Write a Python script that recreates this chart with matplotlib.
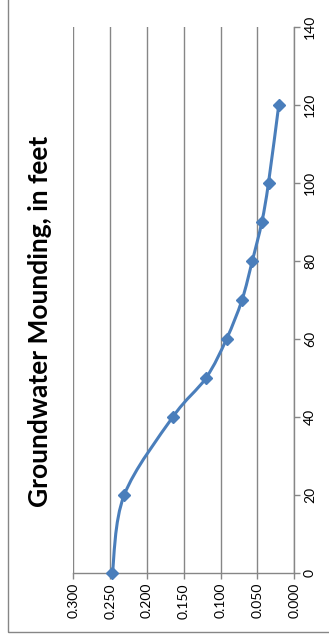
import numpy as np
import matplotlib
matplotlib.use("Agg")
import matplotlib.pyplot as plt
from matplotlib.path import Path
from matplotlib.patches import PathPatch, Rectangle

# Distance (feet) and groundwater mounding (feet)
distance = [0, 20, 40, 50, 60, 70, 80, 90, 100, 120]
mounding = [0.247, 0.231, 0.165, 0.120, 0.092, 0.071, 0.057, 0.044, 0.035, 0.021]

mound_ticks = [0.300, 0.250, 0.200, 0.150, 0.100, 0.050, 0.000]
dist_ticks = [0, 20, 40, 60, 80, 100, 120, 140]

line_color = "#4a7ebb"
axis_color = "#868686"

plt.rcParams["font.family"] = ["Lato", "DejaVu Sans"]

fig = plt.figure(figsize=(3.29, 6.38), dpi=100)
ax = fig.add_axes([0.2228, 0.1014, 0.6717, 0.8569])

# outer chart frame (runs past the top and right edges)
fig.patches.append(Rectangle((8 / 329, (638 - 631.5) / 638), 1.2, 1.2,
                             transform=fig.transFigure, fill=False,
                             edgecolor=axis_color, linewidth=1.0))

# smoothed line through the points (cubic Bezier, Catmull-Rom style)
pts = np.column_stack([mounding, distance])
verts = [pts[0]]
codes = [Path.MOVETO]
for i in range(len(pts) - 1):
    p0 = pts[i - 1] if i > 0 else pts[i]
    p1, p2 = pts[i], pts[i + 1]
    p3 = pts[i + 2] if i + 2 < len(pts) else pts[i + 1]
    verts += [p1 + (p2 - p0) / 6, p2 - (p3 - p1) / 6, p2]
    codes += [Path.CURVE4] * 3
ax.add_patch(PathPatch(Path(verts, codes), fill=False, edgecolor=line_color,
                       linewidth=2.2, capstyle="round", joinstyle="round", zorder=3))
ax.plot(mounding, distance, linestyle="none", marker="D", markersize=6.5,
        color=line_color, zorder=4, clip_on=False)

ax.set_xlim(0.300, 0.000)
ax.set_ylim(0, 140)
ax.set_xticks(mound_ticks)
ax.set_xticklabels([f"{v:.3f}" for v in mound_ticks], rotation=90)
ax.set_yticks(dist_ticks)
ax.set_yticklabels([str(v) for v in dist_ticks], rotation=90, va="center")
ax.yaxis.tick_right()

ax.grid(axis="x", color=axis_color, linewidth=1.0)
ax.set_axisbelow(True)
for side in ["top", "left"]:
    ax.spines[side].set_visible(False)
for side in ["bottom", "right"]:
    ax.spines[side].set_color(axis_color)
    ax.spines[side].set_linewidth(1.0)
ax.tick_params(axis="both", colors=axis_color, length=4, width=1.0,
               labelcolor="black", labelsize=10, pad=3)

fig.text(0.122, 0.497, "Groundwater Mounding, in feet", rotation=90,
         ha="center", va="center", fontsize=19, fontweight="bold")

fig.savefig("out.png", dpi=100)
